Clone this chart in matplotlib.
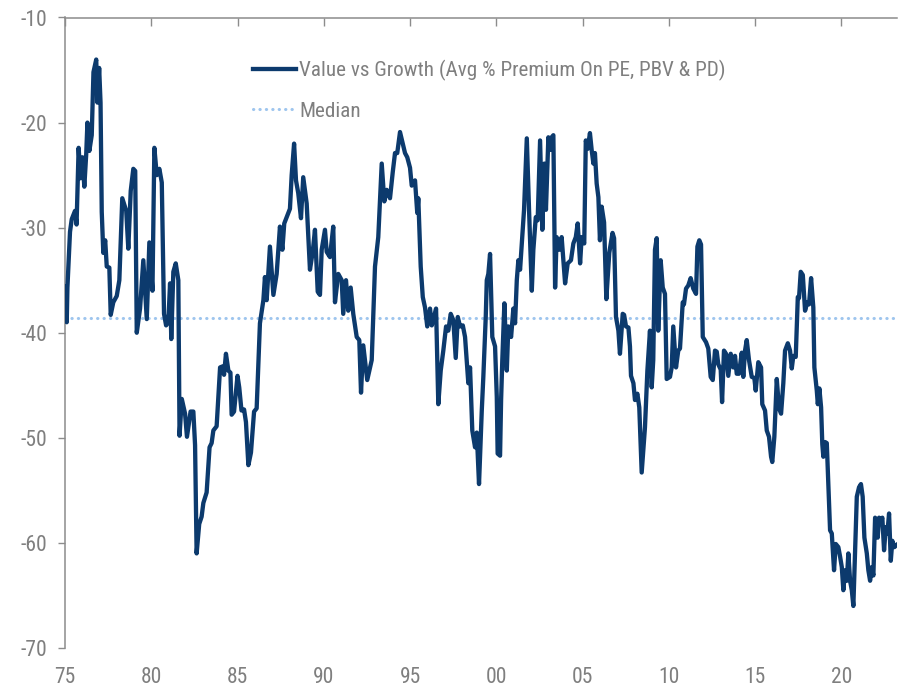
import matplotlib
matplotlib.use("Agg")
import matplotlib.pyplot as plt
from matplotlib import font_manager as fm

# Value vs Growth: average % premium on PE, PBV & PD (decimal years)
years = [
    1975.00, 1975.10, 1975.14, 1975.29, 1975.39, 1975.58, 1975.67, 1975.79, 1975.90, 1976.01,
    1976.12, 1976.23, 1976.30, 1976.41, 1976.55, 1976.65, 1976.81, 1976.88, 1976.98, 1977.06,
    1977.13, 1977.22, 1977.33, 1977.42, 1977.57, 1977.65, 1977.80, 1978.00, 1978.15, 1978.32,
    1978.55, 1978.67, 1978.81, 1978.96, 1979.07, 1979.16, 1979.35, 1979.54, 1979.74, 1979.89,
    1980.07, 1980.18, 1980.32, 1980.47, 1980.61, 1980.74, 1980.86, 1980.99, 1981.09, 1981.16,
    1981.28, 1981.42, 1981.57, 1981.64, 1981.77, 1981.96, 1982.07, 1982.28, 1982.44, 1982.54,
    1982.63, 1982.78, 1982.92, 1983.02, 1983.21, 1983.38, 1983.50, 1983.60, 1983.79, 1983.99,
    1984.14, 1984.22, 1984.33, 1984.47, 1984.59, 1984.66, 1984.80, 1985.00, 1985.10, 1985.23,
    1985.38, 1985.49, 1985.63, 1985.78, 1985.96, 1986.11, 1986.30, 1986.50, 1986.59, 1986.69,
    1986.88, 1987.08, 1987.27, 1987.46, 1987.60, 1987.71, 1987.85, 1988.04, 1988.14, 1988.28,
    1988.39, 1988.52, 1988.68, 1988.81, 1989.01, 1989.20, 1989.36, 1989.49, 1989.65, 1989.78,
    1989.88, 1990.07, 1990.17, 1990.36, 1990.55, 1990.65, 1990.84, 1991.04, 1991.13, 1991.29,
    1991.42, 1991.56, 1991.71, 1991.91, 1992.06, 1992.16, 1992.29, 1992.52, 1992.78, 1992.97,
    1993.16, 1993.36, 1993.51, 1993.65, 1993.84, 1994.00, 1994.13, 1994.26, 1994.42, 1994.58,
    1994.71, 1994.84, 1995.00, 1995.10, 1995.29, 1995.42, 1995.48, 1995.62, 1995.74, 1995.87,
    1996.00, 1996.16, 1996.26, 1996.39, 1996.51, 1996.64, 1996.78, 1996.93, 1997.09, 1997.22,
    1997.36, 1997.51, 1997.65, 1997.77, 1997.90, 1998.06, 1998.19, 1998.38, 1998.48, 1998.61,
    1998.77, 1998.87, 1999.00, 1999.16, 1999.25, 1999.39, 1999.45, 1999.54, 1999.64, 1999.77,
    1999.93, 2000.03, 2000.08, 2000.22, 2000.28, 2000.35, 2000.47, 2000.61, 2000.70, 2000.86,
    2000.99, 2001.09, 2001.19, 2001.28, 2001.38, 2001.48, 2001.61, 2001.77, 2001.90, 2002.06,
    2002.15, 2002.29, 2002.40, 2002.54, 2002.67, 2002.79, 2002.88, 2003.02, 2003.12, 2003.21,
    2003.31, 2003.41, 2003.50, 2003.66, 2003.79, 2003.99, 2004.14, 2004.33, 2004.47, 2004.61,
    2004.72, 2004.86, 2004.95, 2005.10, 2005.19, 2005.30, 2005.43, 2005.53, 2005.63, 2005.72,
    2005.82, 2005.92, 2006.01, 2006.11, 2006.25, 2006.38, 2006.55, 2006.74, 2006.83, 2006.94,
    2007.08, 2007.17, 2007.33, 2007.41, 2007.52, 2007.66, 2007.75, 2007.81, 2007.95, 2008.04,
    2008.18, 2008.29, 2008.43, 2008.62, 2008.76, 2008.91, 2009.01, 2009.10, 2009.20, 2009.30,
    2009.39, 2009.53, 2009.65, 2009.78, 2009.88, 2010.07, 2010.17, 2010.26, 2010.42, 2010.55,
    2010.65, 2010.81, 2010.88, 2011.00, 2011.13, 2011.27, 2011.42, 2011.58, 2011.66, 2011.77,
    2011.87, 2011.97, 2012.16, 2012.29, 2012.43, 2012.55, 2012.68, 2012.78, 2012.87, 2013.01,
    2013.09, 2013.20, 2013.32, 2013.45, 2013.59, 2013.74, 2013.84, 2013.94, 2014.07, 2014.23,
    2014.32, 2014.42, 2014.52, 2014.65, 2014.81, 2014.96, 2015.04, 2015.19, 2015.35, 2015.42,
    2015.58, 2015.68, 2015.81, 2015.93, 2016.00, 2016.12, 2016.26, 2016.39, 2016.51, 2016.64,
    2016.74, 2016.90, 2017.03, 2017.13, 2017.22, 2017.36, 2017.48, 2017.55, 2017.65, 2017.77,
    2017.90, 2018.03, 2018.13, 2018.25, 2018.38, 2018.44, 2018.58, 2018.64, 2018.73, 2018.83,
    2018.90, 2018.96, 2019.06, 2019.16, 2019.25, 2019.35, 2019.45, 2019.58, 2019.68, 2019.83,
    2019.93, 2020.03, 2020.12, 2020.22, 2020.32, 2020.41, 2020.51, 2020.61, 2020.70, 2020.80,
    2020.90, 2021.03, 2021.14, 2021.24, 2021.34, 2021.48, 2021.57, 2021.67, 2021.77, 2021.86,
    2021.96, 2022.06, 2022.11, 2022.19, 2022.29, 2022.38, 2022.48, 2022.58, 2022.67, 2022.77,
    2022.87, 2022.96, 2023.08, 2023.21,
]

premium = [
    -35.6, -39.0, -35.7, -30.4, -29.2, -28.4, -29.7, -22.4, -25.3, -23.3,
    -26.1, -23.0, -20.0, -22.7, -21.2, -15.2, -14.0, -18.1, -14.8, -18.1,
    -28.5, -32.4, -31.2, -33.7, -33.8, -38.3, -37.1, -36.5, -35.0, -27.2,
    -28.4, -32.0, -26.5, -24.4, -24.6, -40.0, -37.7, -33.1, -38.7, -31.4,
    -36.0, -22.4, -25.0, -24.4, -25.7, -38.2, -39.3, -39.0, -35.3, -40.6,
    -34.2, -33.4, -35.0, -49.8, -46.3, -47.7, -49.9, -47.5, -47.5, -50.7,
    -61.0, -58.2, -57.5, -56.2, -55.2, -50.9, -50.5, -49.3, -48.9, -43.3,
    -43.2, -44.0, -42.0, -43.6, -43.8, -47.8, -47.5, -44.1, -45.2, -47.4,
    -47.3, -48.5, -52.6, -51.4, -47.5, -47.2, -39.1, -36.9, -34.7, -36.9,
    -31.8, -36.4, -34.4, -29.9, -32.1, -29.6, -29.0, -28.2, -25.0, -22.0,
    -25.5, -26.7, -29.1, -25.2, -27.7, -34.0, -32.3, -30.2, -36.1, -36.4,
    -32.1, -30.2, -32.3, -32.8, -29.9, -37.1, -34.4, -35.0, -38.2, -35.0,
    -37.9, -35.7, -38.2, -40.4, -40.7, -45.7, -41.2, -44.5, -42.6, -33.7,
    -30.9, -23.9, -27.5, -26.4, -27.2, -24.7, -22.9, -22.9, -20.9, -22.0,
    -22.9, -23.3, -24.3, -26.0, -25.5, -28.6, -27.2, -33.7, -36.6, -37.6,
    -39.4, -37.7, -39.3, -38.5, -37.7, -46.8, -43.6, -41.7, -39.4, -39.8,
    -38.2, -38.8, -42.4, -38.5, -39.4, -39.3, -40.4, -44.8, -43.3, -49.3,
    -50.9, -49.5, -54.4, -47.4, -44.2, -38.5, -35.0, -34.4, -32.5, -40.4,
    -41.3, -46.1, -51.5, -51.7, -46.4, -42.6, -37.2, -43.6, -39.4, -40.4,
    -37.7, -39.1, -35.0, -33.1, -34.0, -31.5, -28.3, -21.5, -28.3, -36.0,
    -32.1, -29.0, -29.3, -21.7, -30.2, -23.9, -28.3, -21.4, -22.6, -21.4,
    -21.2, -35.7, -30.9, -32.1, -30.9, -35.3, -33.4, -33.1, -31.5, -30.9,
    -29.6, -33.4, -30.9, -31.5, -21.7, -22.5, -21.0, -22.6, -23.9, -22.9,
    -25.8, -27.1, -31.2, -28.0, -29.5, -36.8, -32.4, -30.5, -31.0, -38.5,
    -39.8, -42.0, -38.2, -38.3, -39.4, -39.5, -41.3, -44.1, -44.8, -46.4,
    -45.8, -47.1, -53.3, -49.0, -43.6, -39.8, -45.2, -42.6, -32.1, -31.0,
    -39.8, -33.1, -35.7, -36.3, -44.4, -44.2, -43.3, -39.4, -43.3, -41.7,
    -41.5, -37.1, -37.3, -35.8, -35.5, -34.8, -35.8, -36.3, -31.8, -31.2,
    -31.6, -40.4, -40.9, -41.5, -44.2, -44.5, -41.7, -41.8, -43.0, -43.5,
    -46.6, -41.7, -42.0, -44.1, -42.0, -43.3, -42.2, -43.9, -43.9, -41.9,
    -44.2, -41.7, -40.7, -42.6, -44.2, -44.3, -45.5, -42.8, -43.3, -46.8,
    -47.4, -49.3, -49.9, -51.8, -52.3, -49.9, -44.4, -47.2, -47.7, -44.8,
    -41.7, -41.0, -41.7, -43.4, -42.2, -42.3, -36.6, -36.7, -34.2, -34.5,
    -37.9, -37.1, -37.3, -34.8, -37.6, -43.3, -45.5, -46.8, -45.3, -47.1,
    -50.6, -51.8, -50.4, -50.5, -54.4, -58.8, -59.1, -62.6, -60.1, -60.4,
    -61.3, -62.3, -64.5, -62.6, -63.6, -61.0, -63.6, -64.5, -66.0, -60.7,
    -55.6, -54.7, -54.4, -55.6, -59.5, -61.0, -62.6, -63.6, -62.3, -63.1,
    -57.6, -58.2, -59.5, -57.6, -58.0, -57.6, -60.7, -58.5, -59.1, -57.2,
    -61.7, -59.8, -60.4, -60.2,
]

median_value = -38.6

x_ticks = [1975, 1980, 1985, 1990, 1995, 2000, 2005, 2010, 2015, 2020]
x_tick_labels = ["75", "80", "85", "90", "95", "00", "05", "10", "15", "20"]
y_ticks = [-70, -60, -50, -40, -30, -20, -10]

series_label = "Value vs Growth (Avg % Premium On PE, PBV & PD)"
median_label = "Median"

NAVY = "#0c3a6d"
LIGHT_BLUE = "#9ec5ee"
GREY_TEXT = "#7f7f7f"
GREY_AXIS = "#8c8c8c"

plt.rcParams["axes.unicode_minus"] = False


def pick_narrow_font():
    """Return FontProperties for a regular narrow/condensed sans if one is installed."""
    wanted = ["Liberation Sans Narrow", "Arial Narrow", "Roboto Condensed",
              "Noto Sans Condensed", "Open Sans Condensed", "Noto Sans",
              "Open Sans", "Roboto"]
    found = {}
    for f in fm.fontManager.ttflist:
        if f.style != "normal":
            continue
        if str(f.weight) not in ("400", "normal", "regular", "book"):
            continue
        narrow = ("Narrow" in f.name or "Condensed" in f.name
                  or f.stretch in ("condensed", "semi-condensed"))
        if narrow and f.name in wanted:
            found.setdefault(f.name, f.fname)
    for name in wanted:
        if name in found:
            return fm.FontProperties(fname=found[name])
    return fm.FontProperties(family=["Liberation Sans", "DejaVu Sans"])


base_font = pick_narrow_font()

fig = plt.figure(figsize=(9.01, 6.89), dpi=100)
ax = fig.add_axes([65 / 901, 1 - 648 / 689, (897 - 65) / 901, (648 - 17.5) / 689])

ax.plot(years, premium, color=NAVY, lw=3.1, solid_joinstyle="round",
        label=series_label, zorder=3)
ax.axhline(median_value, color=LIGHT_BLUE, lw=2.2, linestyle=(0, (0.1, 2.0)),
           dash_capstyle="round", label=median_label, zorder=2)

ax.set_xlim(1975, 2023.23)
ax.set_ylim(-70, -10)
ax.set_xticks(x_ticks)
ax.set_xticklabels(x_tick_labels)
ax.set_yticks(y_ticks)

for side in ("right", "bottom"):
    ax.spines[side].set_visible(False)
for side in ("top", "left"):
    ax.spines[side].set_color(GREY_AXIS)
    ax.spines[side].set_linewidth(1.1)

# size the legend text so the long series label spans about 426 px
renderer = fig.canvas.get_renderer()
probe_font = base_font.copy()
probe_font.set_size(20)
probe = fig.text(0, 0, series_label, fontproperties=probe_font)
probe_w = probe.get_window_extent(renderer).width
probe.remove()
legend_size = min(16.0, 20 * 426.0 / probe_w)
tick_size = min(16.0, legend_size * 1.02)

ax.tick_params(axis="x", which="major", top=True, bottom=False,
               labeltop=False, labelbottom=True, direction="in",
               length=6, width=1.0, color=GREY_AXIS, pad=14)
ax.tick_params(axis="y", which="major", left=True, right=False,
               direction="out", length=5, width=1.0, color=GREY_AXIS, pad=8)
tick_font = base_font.copy()
tick_font.set_size(tick_size)
for lab in ax.get_xticklabels() + ax.get_yticklabels():
    lab.set_fontproperties(tick_font)
    lab.set_color(GREY_TEXT)

legend_font = base_font.copy()
legend_font.set_size(legend_size)
leg = ax.legend(loc="upper left", bbox_to_anchor=(0.226, 0.933), frameon=False,
                prop=legend_font, handlelength=31.0 / legend_size,
                handletextpad=2.2 / legend_size,
                labelspacing=0.98, borderaxespad=0, borderpad=0)
for txt in leg.get_texts():
    txt.set_color(GREY_TEXT)

fig.savefig("out.png", dpi=100)
